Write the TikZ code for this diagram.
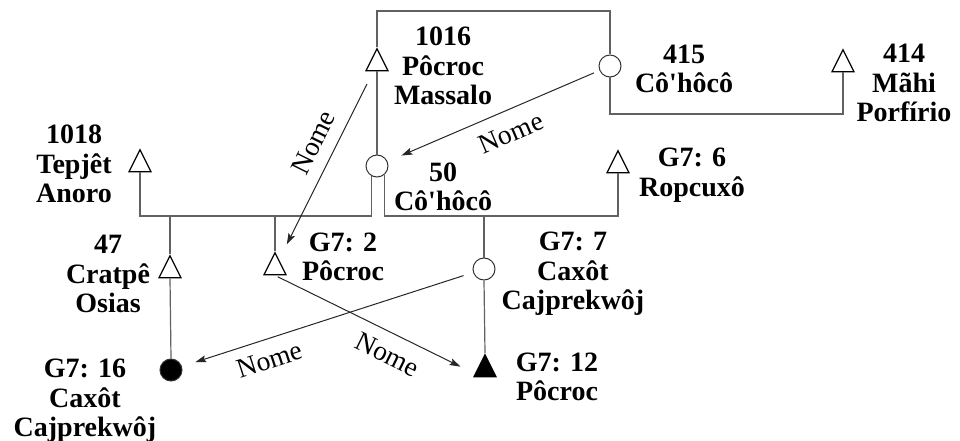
\documentclass[tikz,border=0pt]{standalone}
\usepackage{fontspec}
\setmainfont{Liberation Serif}
\usetikzlibrary{arrows.meta,shapes.geometric}
\begin{document}
\begin{tikzpicture}[x=1pt,y=-1pt,
  kin/.style={draw=black!62, line width=1.2pt},
  rel/.style={draw=black!85, line width=1pt, -{Stealth[length=11pt,width=7pt,inset=2pt]}},
  male/.style={isosceles triangle, isosceles triangle stretches, shape border rotate=90,
    minimum width=22pt, minimum height=22pt, inner sep=0pt, draw=black, line width=1.2pt, fill=white},
  female/.style={circle, minimum size=22pt, inner sep=0pt, draw=black!80, line width=1pt, fill=white},
  dead/.style={fill=black},
  who/.style={font=\fontsize{28}{29.5}\selectfont\bfseries, align=center, inner sep=0pt},
  rellbl/.style={font=\fontsize{27.5}{29}\selectfont, inner sep=0pt}
]
\useasboundingbox (0,0) rectangle (960,441);

% individuals
\node[male]   (t1016) at (377,64)  {};
\node[female] (c415)  at (610,66)  {};
\node[male]   (t414)  at (843,65)  {};
\node[female] (c50)   at (377,166) {};
\node[male]   (t1018) at (140,165) {};
\node[male]   (t6)    at (618,166) {};
\node[male]   (t47)   at (170,271) {};
\node[male]   (t2)    at (275,268) {};
\node[female] (c7)    at (484,269) {};
\node[female,dead] (fc16) at (171,370) {};
\node[male,dead]   (ft12) at (485,370) {};

% names
\node[who] (L1016) at (443,66)  {1016\\Pôcroc\\Massalo};
\node[who] (L415)  at (684,69)  {415\\Cô\textquotesingle hôcô};
\node[who] (L414)  at (904,83)  {414\\Mãhi\\Porfírio};
\node[who] (L1018) at (74,164)  {1018\\Tepjêt\\Anoro};
\node[who] (L50)   at (443,187) {50\\Cô\textquotesingle hôcô};
\node[who] (L6)    at (692,175) {G7: 6\\Ropcuxô};
\node[who] (L47)   at (108,274) {47\\Cratpê\\Osias};
\node[who] (L2)    at (343,257) {G7: 2\\Pôcroc};
\node[who] (L7)    at (573,274) {G7: 7\\Caxôt\\Cajprekwôj};
\node[who] (L12)   at (557,377) {G7: 12\\Pôcroc};
\node[who] (L16)   at (85,401)  {G7: 16\\Caxôt\\Cajprekwôj};

% levels of the connecting lines
\coordinate (yTop)   at (0,11);
\coordinate (yRight) at (0,114);
\coordinate (ySib)   at (0,216);

% kinship lines
\draw[kin] (t1016.north) -- (t1016.north |- yTop) -| (c415.north);
\draw[kin] (c415.south) -- (c415.south |- yRight) -| (t414.south);
\draw[kin] (t1016.south) -- (c50.north);
\draw[kin] (c50.-118) -- (c50.-118 |- ySib) -| (t1018.south);
\draw[kin] (c50.-48) -- (c50.-48 |- ySib) -| (t6.south);
\draw[kin] (t47.north) -- (t47.north |- ySib);
\draw[kin] (t2.north) -- (t2.north |- ySib);
\draw[kin] (c7.north) -- (c7.north |- ySib);
\draw[kin] (t47.south) -- (fc16.north);
\draw[kin] (c7.south) -- (ft12.north);

% named relations
\draw[rel, shorten <=14pt, shorten >=17pt] (t1016) -- node[rellbl, pos=0.43, sloped, above=12pt] {Nome} (t2);
\draw[rel, shorten <=6pt, shorten >=15pt] (c415) -- node[rellbl, pos=0.46, sloped, below=13pt] {Nome} (c50);
\draw[rel, shorten <=10pt, shorten >=14pt] (c7) -- node[rellbl, pos=0.72, sloped, below=11pt] {Nome} (fc16);
\draw[rel, shorten <=3pt, shorten >=16pt] (t2.south) -- node[rellbl, pos=0.61, sloped, below=12pt] {Nome} (ft12.200);
\end{tikzpicture}
\end{document}
